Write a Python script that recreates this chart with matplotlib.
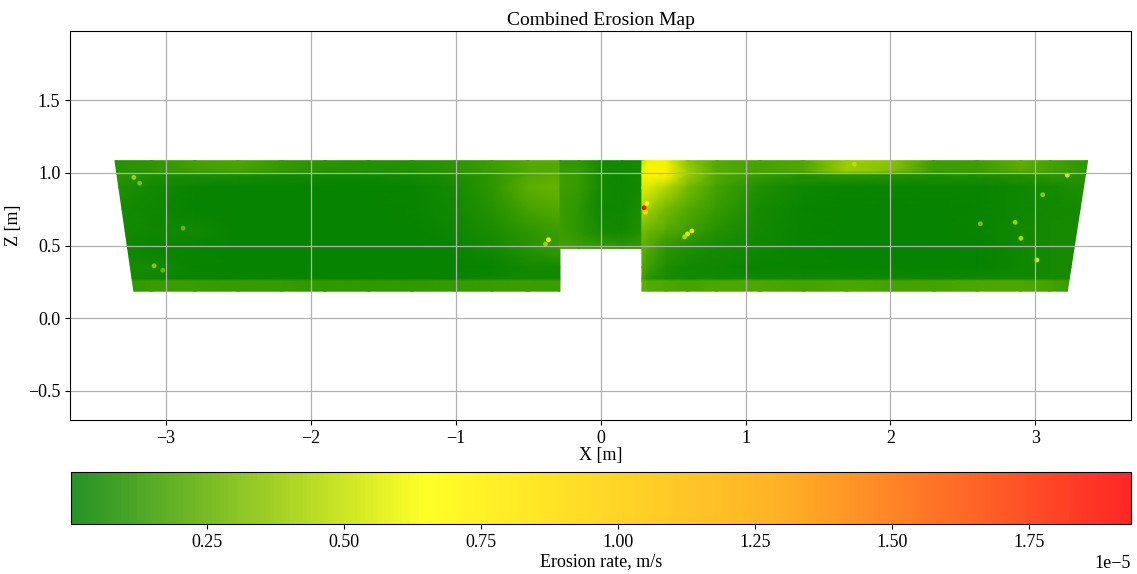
import numpy as np
import matplotlib.pyplot as plt
from matplotlib.colors import LinearSegmentedColormap, Normalize

plt.rcParams['font.family'] = ['Liberation Serif', 'DejaVu Serif']
plt.rcParams['font.size'] = 13

# ---- surface geometry [m] ----
z_nodes = [1.085, 1.01, 0.99, 0.9, 0.75, 0.6, 0.48, 0.35, 0.27, 0.255, 0.185]
left_x = [-3.35, -3.1, -2.8, -2.5, -2.2, -1.9, -1.6, -1.3, -1.0, -0.75, -0.5, -0.28]
left_edge_bottom = -3.22        # left side of the left panel is slanted
mid_x = [-0.28, -0.15, 0.0, 0.15, 0.30]
mid_rows = 7                    # middle piece stops at z = 0.48 (notch below)
right_x = [0.285, 0.33, 0.45, 0.6, 0.8, 1.1, 1.4, 1.7, 2.0, 2.3, 2.6, 2.9, 3.1, 3.36]
right_edge_bottom = 3.22

# ---- erosion rate on the nodes [1e-5 m/s], rows follow z_nodes ----
left_rate = [
    [0.10, 0.12, 0.18, 0.20, 0.14, 0.11, 0.10, 0.10, 0.12, 0.16, 0.22, 0.22],
    [0.10, 0.12, 0.16, 0.18, 0.13, 0.10, 0.09, 0.09, 0.11, 0.15, 0.20, 0.22],
    [0.12, 0.08, 0.07, 0.07, 0.06, 0.05, 0.05, 0.06, 0.08, 0.12, 0.20, 0.24],
    [0.08, 0.05, 0.03, 0.02, 0.02, 0.02, 0.02, 0.03, 0.06, 0.12, 0.24, 0.26],
    [0.06, 0.04, 0.02, 0.02, 0.02, 0.02, 0.02, 0.03, 0.05, 0.10, 0.18, 0.22],
    [0.05, 0.04, 0.05, 0.02, 0.02, 0.02, 0.02, 0.02, 0.04, 0.07, 0.12, 0.16],
    [0.04, 0.03, 0.03, 0.02, 0.02, 0.02, 0.02, 0.02, 0.03, 0.05, 0.10, 0.14],
    [0.06, 0.06, 0.03, 0.02, 0.02, 0.02, 0.02, 0.02, 0.02, 0.03, 0.05, 0.06],
    [0.05, 0.04, 0.03, 0.03, 0.03, 0.03, 0.03, 0.03, 0.03, 0.04, 0.05, 0.05],
    [0.13, 0.15, 0.15, 0.14, 0.14, 0.13, 0.13, 0.13, 0.14, 0.15, 0.16, 0.15],
    [0.13, 0.15, 0.15, 0.14, 0.14, 0.13, 0.13, 0.13, 0.14, 0.15, 0.16, 0.15],
]
mid_rate = [
    [0.12, 0.12, 0.06, 0.05, 0.06],
    [0.14, 0.14, 0.06, 0.05, 0.06],
    [0.16, 0.14, 0.05, 0.04, 0.05],
    [0.16, 0.14, 0.05, 0.04, 0.06],
    [0.15, 0.12, 0.04, 0.04, 0.08],
    [0.16, 0.12, 0.06, 0.05, 0.10],
    [0.18, 0.16, 0.14, 0.12, 0.14],
]
right_rate = [
    [0.50, 0.60, 0.60, 0.35, 0.22, 0.18, 0.20, 0.40, 0.35, 0.16, 0.16, 0.25, 0.18, 0.12],
    [0.60, 0.70, 0.75, 0.40, 0.22, 0.18, 0.20, 0.40, 0.32, 0.15, 0.15, 0.22, 0.18, 0.12],
    [0.60, 0.70, 0.70, 0.40, 0.22, 0.14, 0.10, 0.12, 0.10, 0.08, 0.08, 0.10, 0.12, 0.10],
    [0.55, 0.55, 0.45, 0.30, 0.18, 0.08, 0.04, 0.03, 0.03, 0.03, 0.03, 0.04, 0.06, 0.08],
    [0.45, 0.40, 0.30, 0.22, 0.14, 0.06, 0.03, 0.02, 0.02, 0.02, 0.03, 0.04, 0.05, 0.06],
    [0.30, 0.28, 0.22, 0.16, 0.10, 0.05, 0.03, 0.02, 0.02, 0.02, 0.03, 0.05, 0.06, 0.06],
    [0.25, 0.20, 0.12, 0.08, 0.06, 0.04, 0.03, 0.02, 0.02, 0.02, 0.02, 0.04, 0.06, 0.06],
    [0.22, 0.16, 0.08, 0.05, 0.04, 0.03, 0.03, 0.02, 0.02, 0.02, 0.02, 0.04, 0.06, 0.06],
    [0.18, 0.10, 0.06, 0.05, 0.05, 0.04, 0.04, 0.04, 0.04, 0.04, 0.04, 0.05, 0.06, 0.06],
    [0.25, 0.22, 0.20, 0.18, 0.20, 0.20, 0.18, 0.20, 0.18, 0.18, 0.20, 0.20, 0.18, 0.15],
    [0.25, 0.22, 0.20, 0.18, 0.20, 0.20, 0.18, 0.20, 0.18, 0.18, 0.20, 0.20, 0.18, 0.15],
]

# local hot spots (x, z, rate)
hot_x = [0.30, 0.31, 0.32, 0.60, 0.63, 0.58, 0.42, 0.48, -0.36, -0.38,
         -3.22, -3.18, -3.08, -3.02, -2.88, 2.62, 2.86, 2.90, 3.01, 3.22, 3.05, 1.75]
hot_z = [0.76, 0.73, 0.79, 0.58, 0.60, 0.56, 0.98, 0.99, 0.54, 0.51,
         0.97, 0.93, 0.36, 0.33, 0.62, 0.65, 0.66, 0.55, 0.40, 0.985, 0.85, 1.06]
hot_rate = [1.93, 0.90, 0.70, 0.75, 0.60, 0.50, 0.80, 0.85, 0.65, 0.45,
            0.45, 0.35, 0.40, 0.30, 0.30, 0.35, 0.45, 0.50, 0.60, 0.60, 0.40, 0.50]

rate_range = [0.002, 1.936]   # colour scale limits [1e-5 m/s]

cmap = LinearSegmentedColormap.from_list('erosion', ['green', 'yellow', 'orange', 'red'])
norm = Normalize(vmin=rate_range[0] * 1e-5, vmax=rate_range[1] * 1e-5)

fig = plt.figure(figsize=(11.37, 5.74), dpi=100)
ax = fig.add_axes([0.0616, 0.2683, 0.9332, 0.6777])


def panel(xs, zs, rate, slant_bottom=None, slant_col=None):
    X, Z = np.meshgrid(np.array(xs, float), np.array(zs, float))
    if slant_bottom is not None:
        X[:, slant_col] = np.interp(Z[:, slant_col], [zs[-1], zs[0]],
                                    [slant_bottom, xs[slant_col]])
    ax.pcolormesh(X, Z, np.array(rate) * 1e-5, cmap=cmap, norm=norm,
                  shading='gouraud', rasterized=True)


panel(left_x, z_nodes, left_rate, left_edge_bottom, 0)
panel(mid_x, z_nodes[:mid_rows], mid_rate)
panel(right_x, z_nodes, right_rate, right_edge_bottom, -1)
ax.scatter(hot_x, hot_z, c=np.array(hot_rate) * 1e-5, cmap=cmap, norm=norm,
           s=12, linewidths=0, alpha=0.9)

ax.set_xlim(-3.66, 3.66)
ax.set_ylim(-0.703, 1.979)
ax.grid(True, color='#b0b0b0', linewidth=0.9)
ax.set_title('Combined Erosion Map', fontsize=14, pad=4)
ax.set_xlabel('X [m]', labelpad=0)
ax.set_ylabel('Z [m]', labelpad=4)

cax = fig.add_axes([0.0624, 0.0871, 0.9323, 0.0906])
sm = plt.cm.ScalarMappable(norm=norm, cmap=cmap)
cb = fig.colorbar(sm, cax=cax, orientation='horizontal')
cb.solids.set_alpha(0.85)
cb.set_label('Erosion rate, m/s', labelpad=2)

fig.savefig('out.png', dpi=100)
